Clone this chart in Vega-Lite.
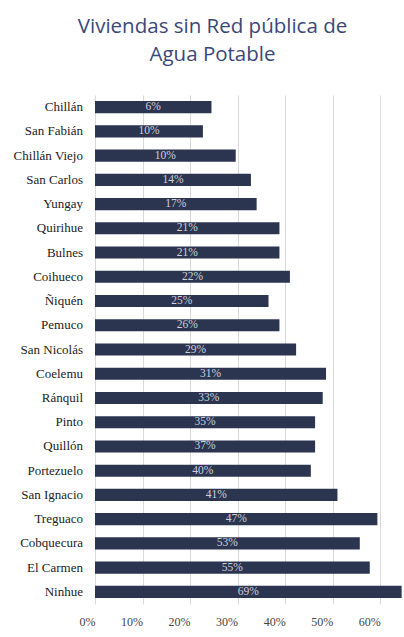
{
  "$schema": "https://vega.github.io/schema/vega-lite/v6.json",
  "autosize": "none",
  "width": 309,
  "height": 509,
  "padding": {"left": 95, "top": 95, "right": 0, "bottom": 33},
  "background": "white",
  "config": {
    "view": {"stroke": null}
  },
  "title": {
    "text": ["Viviendas sin Red pública de", "Agua Potable"],
    "font": "Open Sans",
    "fontSize": 20.5,
    "fontWeight": "normal",
    "color": "#3a4878",
    "anchor": "middle",
    "frame": "group",
    "dx": -37,
    "offset": 30,
    "lineHeight": 28
  },
  "data": {
    "values": [
      {"comuna": "Chillán", "v": 0.245, "lab": "6%"},
      {"comuna": "San Fabián", "v": 0.227, "lab": "10%"},
      {"comuna": "Chillán Viejo", "v": 0.296, "lab": "10%"},
      {"comuna": "San Carlos", "v": 0.328, "lab": "14%"},
      {"comuna": "Yungay", "v": 0.34, "lab": "17%"},
      {"comuna": "Quirihue", "v": 0.388, "lab": "21%"},
      {"comuna": "Bulnes", "v": 0.388, "lab": "21%"},
      {"comuna": "Coihueco", "v": 0.41, "lab": "22%"},
      {"comuna": "Ñiquén", "v": 0.365, "lab": "25%"},
      {"comuna": "Pemuco", "v": 0.388, "lab": "26%"},
      {"comuna": "San Nicolás", "v": 0.423, "lab": "29%"},
      {"comuna": "Coelemu", "v": 0.486, "lab": "31%"},
      {"comuna": "Ránquil", "v": 0.479, "lab": "33%"},
      {"comuna": "Pinto", "v": 0.463, "lab": "35%"},
      {"comuna": "Quillón", "v": 0.463, "lab": "37%"},
      {"comuna": "Portezuelo", "v": 0.454, "lab": "40%"},
      {"comuna": "San Ignacio", "v": 0.51, "lab": "41%"},
      {"comuna": "Treguaco", "v": 0.594, "lab": "47%"},
      {"comuna": "Cobquecura", "v": 0.557, "lab": "53%"},
      {"comuna": "El Carmen", "v": 0.578, "lab": "55%"},
      {"comuna": "Ninhue", "v": 0.645, "lab": "69%"}
    ]
  },
  "transform": [{"calculate": "datum.v / 2", "as": "mid"}],
  "encoding": {
    "y": {
      "field": "comuna",
      "type": "nominal",
      "sort": null,
      "scale": {"paddingInner": 0.5, "paddingOuter": 0.25},
      "axis": null
    }
  },
  "layer": [
    {
      "mark": {"type": "bar", "color": "#2c3550"},
      "encoding": {
        "x": {
          "field": "v",
          "type": "quantitative",
          "scale": {"domain": [0, 0.65], "nice": false},
          "axis": {
            "title": null,
            "format": ".0%",
            "values": [0, 0.1, 0.2, 0.3, 0.4, 0.5, 0.6],
            "ticks": false,
            "domain": false,
            "grid": true,
            "gridColor": "#d9d9d9",
            "labelFont": "Liberation Serif",
            "labelFontSize": 12,
            "labelColor": "#444",
            "labelPadding": 12,
            "labelAlign": "right",
            "labelBound": false
          }
        }
      }
    },
    {
      "mark": {"type": "text", "font": "Liberation Serif", "fontSize": 11.5, "color": "#ccd0dc", "align": "center", "baseline": "middle"},
      "encoding": {
        "x": {"field": "mid", "type": "quantitative"},
        "text": {"field": "lab"}
      }
    },
    {
      "mark": {"type": "text", "font": "Liberation Serif", "fontSize": 13, "color": "#222", "align": "right", "baseline": "middle", "dx": -12},
      "encoding": {
        "x": {"datum": 0, "type": "quantitative"},
        "text": {"field": "comuna"}
      }
    }
  ]
}
